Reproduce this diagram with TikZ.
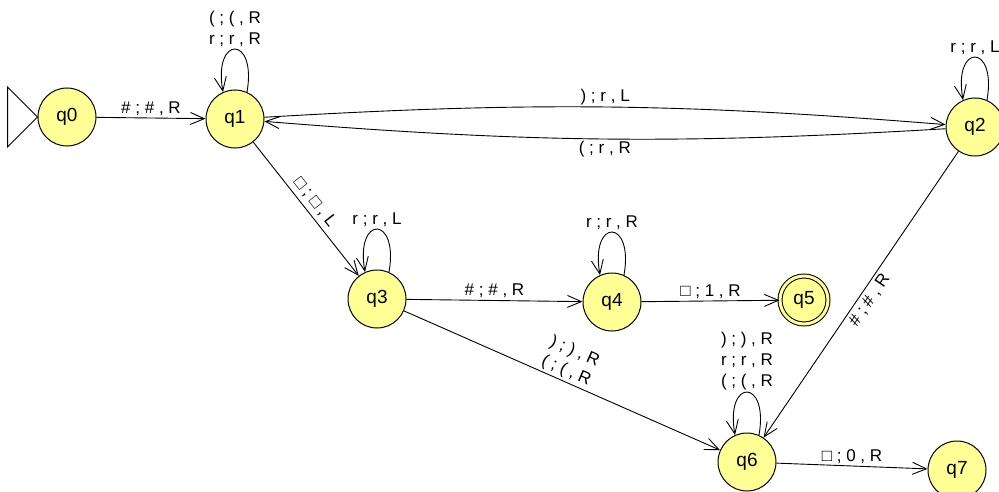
\documentclass[tikz,border=0pt]{standalone}
\usepackage{fontspec}
\setmainfont{Liberation Sans}
\usetikzlibrary{arrows.meta}
\definecolor{statefill}{RGB}{255,255,150}

\begin{document}
\begin{tikzpicture}[x=1pt,y=-1pt]
        \useasboundingbox (0,0) rectangle (999,492);
        \begin{scope}[every node/.style={circle,draw,line width=1pt,fill=statefill,minimum size=58pt,inner sep=0pt,font=\fontsize{19}{22}\selectfont}]
            \node (q0) at (67,117) {q0};
            \node (q1) at (235,119) {q1};
            \node (q2) at (975,127) {q2};
            \node (q3) at (377,299) {q3};
            \node (q4) at (612,302) {q4};
            \node[double=statefill,double distance=3pt,minimum size=48pt] (q5) at (804,300) {q5};
            \node (q6) at (747,462) {q6};
            \node (q7) at (957,470) {q7};
        \end{scope}

        % start marker
        \draw[line width=1pt] (q0.west) -- ++(-30,-30) -- ++(0,60) -- cycle;

        \begin{scope}[>={Straight Barb[length=14pt,width=12pt]},
            every node/.style={font=\fontsize{17}{21}\selectfont,inner sep=2pt},
            every edge/.style={draw,line width=0.9pt}]
            \path [->] (q0) edge node[above]{\# ; \# , R} (q1);
            \path [->] (q1.66) edge[out=80,in=100,min distance=58pt] node[above,align=center]{( ; ( , R\\r ; r , R} (q1.114);
            \path [->] (q1) edge[bend left=4] node[above]{) ; r , L} (q2);
            \path [->] (q2) edge[bend left=4] node[below]{( ; r , R} (q1);
            \path [->] (q2.66) edge[out=80,in=100,min distance=58pt] node[above]{r ; r , L} (q2.114);
            \path [->] (q1) edge node[above,sloped,inner sep=4pt]{□ ; □ , L} (q3);
            \path [->] (q3.66) edge[out=80,in=100,min distance=58pt] node[above]{r ; r , L} (q3.114);
            \path [->] (q3) edge node[above]{\# ; \# , R} (q4);
            \path [->] (q4.66) edge[out=80,in=100,min distance=58pt] node[above]{r ; r , R} (q4.114);
            \path [->] (q4) edge node[above]{□ ; 1 , R} (q5);
            \path [->] (q3) edge node[above,sloped,align=center]{) ; ) , R\\( ; ( , R} (q6);
            \path [->] (q2) edge node[below,sloped,inner sep=3pt]{\# ; \# , R} (q6);
            \path [->] (q6.66) edge[out=80,in=100,min distance=58pt] node[above,align=center]{) ; ) , R\\r ; r , R\\( ; ( , R} (q6.114);
            \path [->] (q6) edge node[above]{□ ; 0 , R} (q7);
        \end{scope}
    \end{tikzpicture}
\end{document}
